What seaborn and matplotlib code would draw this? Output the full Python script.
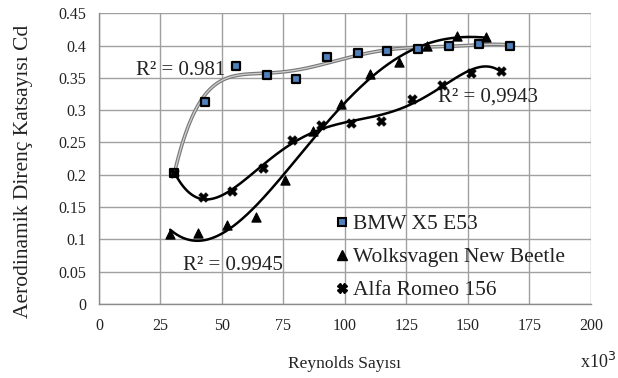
import numpy as np
import pandas as pd
import matplotlib
matplotlib.use("Agg")
import matplotlib.pyplot as plt
import seaborn as sns
from matplotlib.lines import Line2D

# ---- data (Reynolds number x10^3, Cd) ----
bmw_x = [30.6, 43.0, 55.7, 68.4, 80.3, 92.8, 105.4, 117.3, 129.8, 142.3, 154.5, 167.0]
bmw_y = [0.203, 0.313, 0.369, 0.354, 0.348, 0.382, 0.389, 0.391, 0.394, 0.400, 0.402, 0.400]

vw_x = [29.0, 40.5, 52.0, 64.0, 75.5, 87.0, 98.5, 110.4, 122.0, 133.5, 145.4, 157.2]
vw_y = [0.108, 0.110, 0.122, 0.134, 0.192, 0.267, 0.310, 0.356, 0.374, 0.400, 0.414, 0.413]

alfa_x = [30.6, 42.2, 54.2, 66.7, 78.7, 90.5, 102.7, 114.5, 127.1, 139.6, 151.2, 163.3]
alfa_y = [0.203, 0.166, 0.175, 0.210, 0.253, 0.277, 0.280, 0.283, 0.317, 0.339, 0.358, 0.361]

labels = ["BMW X5 E53", "Wolksvagen New Beetle", "Alfa Romeo 156"]
r2_texts = ["R² = 0.981", "R² = 0.9945", "R² = 0,9943"]
x_ticks = [0, 25, 50, 75, 100, 125, 150, 175, 200]
y_ticks = [0, 0.05, 0.1, 0.15, 0.2, 0.25, 0.3, 0.35, 0.4, 0.45]
y_tick_labels = ["0", "0.05", "0.1", "0.15", "0.2", "0.25", "0.3", "0.35", "0.4", "0.45"]

sns.set_style("white")
plt.rcParams['font.family'] = ['Liberation Serif', 'DejaVu Serif']

fig = plt.figure(figsize=(6.18, 3.78), dpi=100)
ax = fig.add_axes([0.160, 0.196, 0.796, 0.769])

def trend(x, y, deg):
    p = np.polynomial.Polynomial.fit(x, y, deg)
    xs = np.linspace(min(x), max(x), 300)
    return pd.DataFrame({"x": xs, "y": p(xs)})

# polynomial trend lines
tb = trend(bmw_x, bmw_y, 6)
sns.lineplot(data=tb, x="x", y="y", ax=ax, color="#7a7a7a", lw=2.6, zorder=3)
sns.lineplot(data=tb, x="x", y="y", ax=ax, color="#d0d0d0", lw=0.9, zorder=3)
tv = trend(vw_x, vw_y, 4)
sns.lineplot(data=tv, x="x", y="y", ax=ax, color="black", lw=1.8, zorder=3)
ta = trend(alfa_x, alfa_y, 6)
sns.lineplot(data=ta, x="x", y="y", ax=ax, color="black", lw=1.8, zorder=3)

# data points
sns.scatterplot(x=bmw_x, y=bmw_y, ax=ax, marker="s", s=36, color="#4f81bd",
                edgecolor="black", linewidth=1.6, zorder=5)
sns.scatterplot(x=vw_x, y=vw_y, ax=ax, marker="^", s=44, color="black",
                edgecolor="black", linewidth=0.8, zorder=5)
sns.scatterplot(x=alfa_x, y=alfa_y, ax=ax, marker="X", s=48, color="black",
                edgecolor="black", linewidth=0.4, zorder=5)

ax.set_xlim(0, 200)
ax.set_ylim(0, 0.45)
ax.set_xticks(x_ticks)
ax.set_yticks(y_ticks)
ax.set_xticklabels([str(t) for t in x_ticks])
ax.set_yticklabels(y_tick_labels)
ax.grid(True, color="#a0a0a0", lw=1.0)
ax.set_axisbelow(True)
for s in ["top", "right"]:
    ax.spines[s].set_visible(False)
for s in ["left", "bottom"]:
    ax.spines[s].set_color("#8c8c8c")
    ax.spines[s].set_linewidth(1.0)
ax.tick_params(axis="both", which="both", length=5, width=1.0, color="#8c8c8c",
               labelsize=11.5, labelcolor="#222222", direction="out")
ax.tick_params(axis="x", pad=5)
ax.tick_params(axis="y", pad=4)

ax.set_xlabel("Reynolds Sayısı", fontsize=12.5, color="#222222", labelpad=16)
ax.set_ylabel("Aerodinamik Direnç Katsayısı Cd", fontsize=15.5, color="#222222")
ax.yaxis.set_label_coords(-0.134, 0.4575)
fig.text(0.9676, 0.042, "x10$^3$", fontsize=13, ha="center", va="center", color="#222222")

# R² annotations
ax.text(15.0, 0.362, r2_texts[0], fontsize=15, ha="left", va="center", color="#222222", zorder=4)
ax.text(34.1, 0.060, r2_texts[1], fontsize=15, ha="left", va="center", color="#222222", zorder=4)
ax.text(137.8, 0.320, r2_texts[2], fontsize=15, ha="left", va="center", color="#222222", zorder=4)

handles = [
    Line2D([], [], ls="none", marker="s", ms=6, mfc="#4f81bd", mec="black", mew=1.5),
    Line2D([], [], ls="none", marker="^", ms=6.5, mfc="black", mec="black"),
    Line2D([], [], ls="none", marker="X", ms=6.5, mfc="black", mec="black"),
]
leg = ax.legend(handles, labels, loc="upper left", bbox_to_anchor=(0.472, 0.308),
                frameon=False, fontsize=15.5, handletextpad=0.0, handlelength=1.0,
                labelspacing=0.6, borderaxespad=0.0, borderpad=0.0)
for t in leg.get_texts():
    t.set_color("#222222")

fig.savefig("out.png", dpi=100)
